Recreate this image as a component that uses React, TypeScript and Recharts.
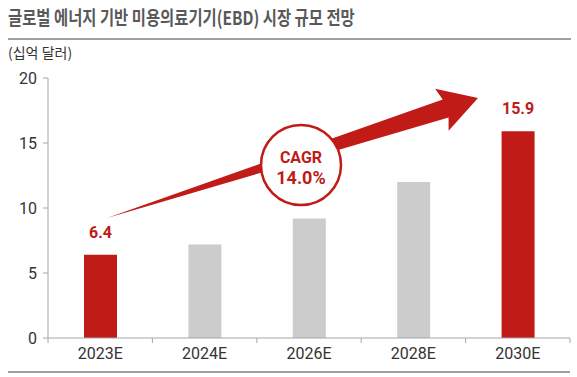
import { Bar, BarChart, Cell, Customized, LabelList, XAxis, YAxis } from "recharts";

const years = ["2023E", "2024E", "2026E", "2028E", "2030E"];
const marketSize = [6.4, 7.2, 9.2, 12.0, 15.9];
const highlighted = [true, false, false, false, true];
const yTicks = [0, 5, 10, 15, 20];

const RED = "#c01b17";
const GREY = "#cccccc";
const AXIS = "#a6a6a6";
const KR = "'Noto Sans CJK KR', 'Noto Sans', sans-serif";

const W = 577;
const H = 377;
const PLOT_LEFT = 48;
const PLOT_RIGHT = 570;
const BAND = (PLOT_RIGHT - PLOT_LEFT) / years.length;

const chartData = years.map((year, i) => ({
  year,
  value: marketSize[i],
  hi: highlighted[i],
}));

function XTick(props: any) {
  const { x, y, payload, index } = props;
  return (
    <g>
      {index === 0 && (
        <line x1={x - BAND / 2} y1={y - 8} x2={x - BAND / 2} y2={y - 3} stroke={AXIS} />
      )}
      <line x1={x + BAND / 2} y1={y - 8} x2={x + BAND / 2} y2={y - 3} stroke={AXIS} />
      <text
        x={x}
        y={y + 13}
        textAnchor="middle"
        fill="#333"
        fontSize={16}
        fontFamily="Roboto, sans-serif"
      >
        {payload.value}
      </text>
    </g>
  );
}

function ValueLabel(props: any) {
  const { x, y, width, value, index } = props;
  if (!highlighted[index]) return null;
  return (
    <text
      x={x + width / 2}
      y={y - 17}
      textAnchor="middle"
      fill={RED}
      fontSize={16}
      fontWeight={700}
      fontFamily="Roboto, sans-serif"
    >
      {value.toFixed(1)}
    </text>
  );
}

// CAGR arrow annotation drawn over the plot
function CagrArrow() {
  const tail = [107, 218];
  const tip = [478, 98];
  const dx = tip[0] - tail[0];
  const dy = tip[1] - tail[1];
  const len = Math.hypot(dx, dy);
  const ux = dx / len;
  const uy = dy / len;
  const nx = -uy;
  const ny = ux;
  const headLen = 34;
  const bx = tip[0] - ux * headLen;
  const by = tip[1] - uy * headLen;
  const shaft = 9.5;
  const head = 22;
  const pts = [
    [tail[0], tail[1]],
    [bx - nx * shaft, by - ny * shaft],
    [bx - nx * head - ux * 4, by - ny * head - uy * 4],
    [tip[0], tip[1]],
    [bx + nx * head - ux * 4, by + ny * head - uy * 4],
    [bx + nx * shaft, by + ny * shaft],
  ]
    .map((p) => p.join(","))
    .join(" ");
  return (
    <g>
      <polygon points={pts} fill={RED} />
      <circle cx={301} cy={165} r={40} fill="#fff" stroke={RED} strokeWidth={2.5} />
      <text
        x={301}
        y={163}
        textAnchor="middle"
        fill={RED}
        fontSize={16}
        fontWeight={700}
        fontFamily="Roboto, sans-serif"
      >
        CAGR
      </text>
      <text
        x={301}
        y={184}
        textAnchor="middle"
        fill={RED}
        fontSize={18}
        fontWeight={700}
        fontFamily="Roboto, sans-serif"
      >
        14.0%
      </text>
    </g>
  );
}

export default function App() {
  return (
    <div
      style={{
        position: "absolute",
        left: 0,
        top: 0,
        width: W,
        height: H,
        background: "#fff",
        overflow: "hidden",
      }}
    >
      <div
        style={{
          position: "absolute",
          left: 8,
          top: 5,
          fontFamily: KR,
          fontSize: 19,
          fontWeight: 700,
          color: "#595959",
          whiteSpace: "nowrap",
          transform: "scaleX(0.81)",
          transformOrigin: "left top",
          lineHeight: "24px",
        }}
      >
        글로벌 에너지 기반 미용의료기기(EBD) 시장 규모 전망
      </div>
      <div
        style={{
          position: "absolute",
          left: 8,
          top: 38,
          width: 563,
          height: 0,
          borderTop: "2px solid #a0a0a0",
        }}
      />
      <div
        style={{
          position: "absolute",
          left: 8,
          top: 43,
          fontFamily: KR,
          fontSize: 14,
          color: "#333",
          lineHeight: "18px",
        }}
      >
        (십억 달러)
      </div>
      <div
        style={{
          position: "absolute",
          left: 8,
          top: 371,
          width: 562,
          height: 0,
          borderTop: "2px solid #a0a0a0",
        }}
      />
      <div style={{ position: "absolute", left: 0, top: 0 }}>
        <BarChart
          width={W}
          height={H}
          data={chartData}
          margin={{ top: 78, right: W - PLOT_RIGHT, left: 8, bottom: 9 }}
          barSize={33}
        >
          <XAxis
            dataKey="year"
            height={30}
            axisLine={{ stroke: AXIS }}
            tickLine={false}
            tick={<XTick />}
            interval={0}
          />
          <YAxis
            width={40}
            domain={[0, 20]}
            ticks={yTicks}
            axisLine={{ stroke: AXIS }}
            tickLine={{ stroke: AXIS }}
            tickSize={5}
            tickMargin={6}
            tick={{ fill: "#333", fontSize: 16, fontFamily: "Roboto, sans-serif" }}
          />
          <Bar dataKey="value" isAnimationActive={false}>
            {chartData.map((d) => (
              <Cell key={d.year} fill={d.hi ? RED : GREY} />
            ))}
            <LabelList dataKey="value" content={<ValueLabel />} />
          </Bar>
          <Customized component={<CagrArrow />} />
        </BarChart>
      </div>
    </div>
  );
}
